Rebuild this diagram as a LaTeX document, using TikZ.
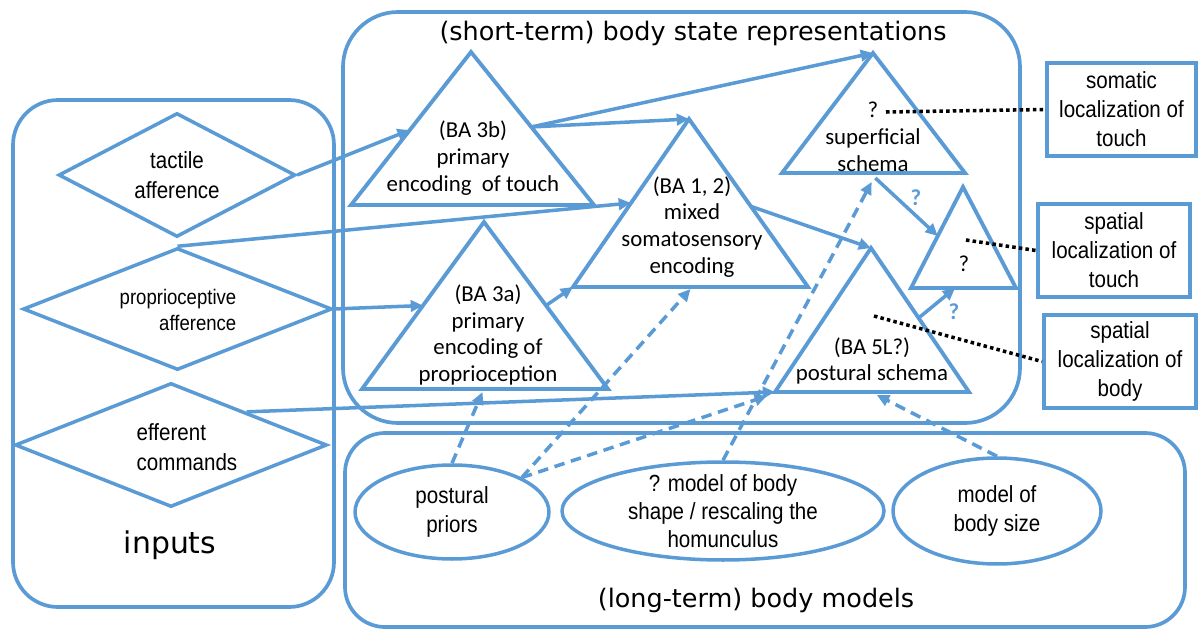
\documentclass[tikz,border=0pt]{standalone}
\usepackage{fontspec}
\setmainfont{Liberation Sans}
\newfontfamily\calfont{Carlito}
\newfontfamily\vfont{DejaVu Sans}
\newfontfamily\narrowfont[FakeStretch=0.88]{Liberation Sans}
\usetikzlibrary{calc,shapes.geometric,arrows.meta}

\definecolor{boxblue}{HTML}{5B9BD5}

\tikzset{
  panel/.style={draw=boxblue, line width=2.1pt},
  tri/.style={draw=boxblue, line width=2.2pt, line join=miter},
  link/.style={draw=boxblue, line width=2pt, ->},
  prior/.style={link, dash pattern=on 6pt off 3.8pt},
  pointer/.style={draw=black, line width=2pt, dash pattern=on 2pt off 1.8pt},
  title/.style={font=\vfont\fontsize{14.5}{17}\selectfont},
  indiamond/.style={diamond, draw=boxblue, line width=2pt, inner sep=0pt},
  intext/.style={font=\narrowfont\fontsize{13.3}{17}\selectfont, align=center, inner sep=0pt},
  tritext/.style={font=\calfont\fontsize{13}{15.3}\selectfont, align=center, inner sep=0pt},
  model/.style={ellipse, draw=boxblue, line width=2pt, inner sep=0pt},
  outbox/.style={draw=boxblue, line width=2.3pt, inner sep=0pt, minimum height=1.86cm,
    align=center, font=\narrowfont\fontsize{13.3}{16.5}\selectfont},
  qmark/.style={text=boxblue, font=\calfont\bfseries\fontsize{13}{15}\selectfont}
}

\begin{document}
\begin{tikzpicture}[x=0.02cm, y=-0.02cm, >={Triangle[length=7pt,width=6.5pt]}]
  \useasboundingbox (0,0) rectangle (1198,629);

  % Panels
  \draw[panel, rounded corners=0.9cm] (13,100) rectangle (334,607);
  \draw[panel, rounded corners=1.1cm] (343,12) rectangle (1020,423);
  \draw[panel, rounded corners=0.8cm] (345,433) rectangle (1185,627);
  \node[title] (stitle) at (693,33) {(short-term) body state representations};
  \node[title] (ltitle) at (756,600) {(long-term) body models};
  \node[title, font=\vfont\fontsize{17}{20}\selectfont] (ititle) at (170,545) {inputs};

  % Inputs
  \node[indiamond, minimum width=4.74cm, minimum height=2.48cm] (tact) at (177,175) {};
  \node[intext] (tactT) at (tact) {tactile\\afference};
  \node[indiamond, minimum width=6.18cm, minimum height=2.44cm] (prop) at (177.5,309) {};
  \node[intext, align=right, font=\narrowfont\fontsize{12}{14.7}\selectfont] (propT) at (178,310) {proprioceptive\\afference};
  \node[indiamond, minimum width=6.24cm, minimum height=2.48cm] (eff) at (171,445) {};
  \node[intext, align=left] (effT) at (187,447) {efferent\\commands};

  % Body state triangles: name/top x/top y/left x/right x/base y
  \foreach \n/\tx/\ty/\lx/\rx/\by in {Tch/471/52/351/594/205, Mix/689/119/573/808/287,
      Prp/484/222/362/608/389, Sup/873/53/782/965/173, Spa/963/187/911/1016/288,
      Pos/871/248/775/969/392}{
    \coordinate (\n T) at (\tx,\ty);
    \coordinate (\n L) at (\lx,\by);
    \coordinate (\n R) at (\rx,\by);
    \draw[tri] (\n T) -- (\n L) -- (\n R) -- cycle;
  }
  \node[tritext] (tchT) at (473,158) {(BA 3b)\\primary\\encoding\ \ of touch};
  \node[tritext] (mixT) at (692,227) {(BA 1, 2)\\mixed\\somatosensory\\encoding};
  \node[tritext] (prpT) at (488,335) {(BA 3a)\\primary\\encoding of\\proprioception};
  \node[tritext] (supT) at (873,137) {?\\superficial\\schema};
  \node[tritext] (spaT) at (964,264) {?};
  \node[tritext] (posT) at (872,361) {(BA 5L?)\\postural schema};

  % Long-term models
  \node[model, minimum width=3.88cm, minimum height=1.88cm] (priors) at (452,512) {};
  \node[intext, font=\narrowfont\fontsize{13.3}{16.5}\selectfont] (priorsT) at (priors) {postural\\priors};
  \node[model, minimum width=6.44cm, minimum height=1.96cm] (bshape) at (723,511) {};
  \node[intext, font=\narrowfont\fontsize{13.3}{15.8}\selectfont] (bshapeT) at (bshape) {? model of body\\shape / rescaling the\\homunculus};
  \node[model, minimum width=4.16cm, minimum height=2.12cm] (bsize) at (997,511) {};
  \node[intext, font=\narrowfont\fontsize{13.3}{16.5}\selectfont] (bsizeT) at (bsize) {model of\\body size};

  % Outputs
  \node[outbox, minimum width=2.98cm] (som) at (1121.5,109.5) {somatic\\localization of\\touch};
  \node[outbox, minimum width=3.04cm] (stouch) at (1114,250.5) {spatial\\localization of\\touch};
  \node[outbox, minimum width=3.04cm] (sbody) at (1120,361.5) {spatial\\localization of\\body};

  % Feed-forward arrows
  \draw[link] (tact.east) -- ($(TchT)!0.51!(TchL)$);
  \draw[link] (prop.north) -- ($(MixT)!0.5!(MixL)$);
  \draw[link] (prop.east) -- ($(PrpT)!0.5!(PrpL)$);
  \draw[link] ($(eff.north)!0.48!(eff.east)$) -- (PosL);
  \draw[link] ($(TchT)!0.49!(TchR)$) -- (SupT);
  \draw[link] ($(TchT)!0.49!(TchR)$) -- (MixT);
  \draw[link] ($(PrpT)!0.5!(PrpR)$) -- (MixL);
  \draw[link] ($(MixT)!0.52!(MixR)$) -- (PosT);
  \draw[link] ($(SupL)!0.51!(SupR)+(0,5)$) -- ($(SpaT)!0.485!(SpaL)$);
  \draw[link] ($(PosT)!0.486!(PosR)$) -- ($(SpaL)!0.42!(SpaR)$);
  \node[qmark] (q1) at (916,198) {?};
  \node[qmark] (q2) at (954,312) {?};

  % Priors from long-term models
  \draw[prior] (priors.north) -- ($(PrpL)!0.49!(PrpR)+(0,3)$);
  \draw[prior] (priors.north east) -- ($(MixL)!0.5!(MixR)+(0,2)$);
  \draw[prior] (priors.north east) -- ($(PosL)+(-8,4)$);
  \draw[prior] (bshape.north) -- ($(SupL)!0.49!(SupR)+(0,9)$);
  \draw[prior] (bsize.north) -- ($(PosL)!0.525!(PosR)+(0,3)$);

  % Read-outs
  \coordinate (SupQ) at (886,112);
  \coordinate (SpaQ) at (966,240);
  \coordinate (PosQ) at (874,316);
  \draw[pointer] (SupQ) -- (som.west);
  \draw[pointer] (SpaQ) -- (stouch.west);
  \draw[pointer] (PosQ) -- (sbody.west);
\end{tikzpicture}
\end{document}
